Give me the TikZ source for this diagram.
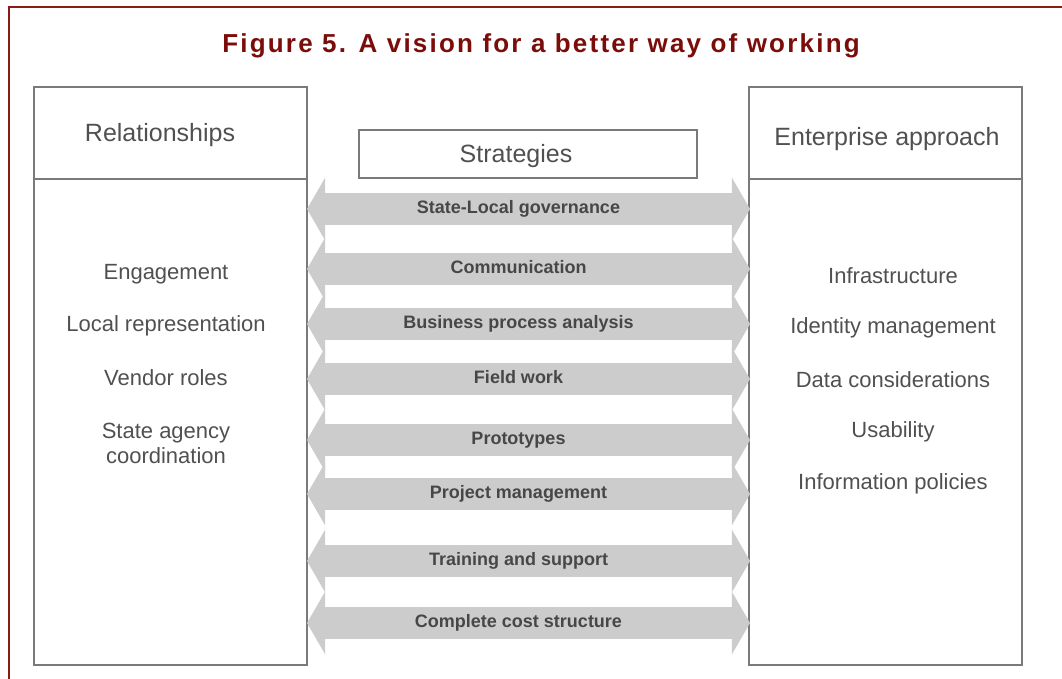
\documentclass[tikz,border=0pt]{standalone}
\usepackage{fontspec}
\setmainfont{Liberation Sans}
\newfontfamily\titlefont[LetterSpace=8.5]{Liberation Sans}
\usetikzlibrary{shapes.arrows, positioning}
\definecolor{cframe}{HTML}{8A1A14}
\definecolor{ctitle}{HTML}{7A0D0A}
\definecolor{cline}{HTML}{7A7A7A}
\definecolor{ctext}{HTML}{505050}
\definecolor{carrow}{HTML}{CCCCCC}
\tikzset{
  every picture/.style={line width=1.6pt},
  panel/.style={draw=cline, minimum width=273pt, inner sep=0pt},
  head/.style={text=ctext, font=\fontsize{25}{30}\selectfont},
  item/.style={text=ctext, font=\fontsize{22}{25}\selectfont, align=center},
  strat/.style={double arrow, fill=carrow, draw=none, minimum height=443pt,
    double arrow head extend=15.5pt, double arrow tip angle=120, inner xsep=0pt,
    inner ysep=6.5pt, text height=13pt, text depth=4pt, text=black!72,
    font=\fontsize{18}{20}\selectfont\bfseries, execute at end node=\hspace*{20pt}},
}

\begin{document}
\begin{tikzpicture}[x=1pt, y=-1pt]
  \useasboundingbox (0,0) rectangle (1062,678);
  \draw[cframe, line width=2.5pt] (9,690) -- (9,7) -- (1070,7);
  \node[text=ctitle, font=\titlefont\fontsize{26}{30}\selectfont\bfseries] (title) at (541,46) {Figure 5. A vision for a better way of working};
  % side panels
  \node[panel, minimum height=92pt] (relhead) at (170.5,133) {};
  \node[panel, minimum height=486pt] (relbody) at (170.5,422) {};
  \node[panel, minimum height=92pt] (enthead) at (885.5,133) {};
  \node[panel, minimum height=486pt] (entbody) at (885.5,422) {};
  \node[head] at (160,135) {Relationships};
  \node[head] at (887,139) {Enterprise approach};
  \node[draw=cline, minimum width=338pt, minimum height=48pt] (strathead) at (528,154) {};
  \node[head] at (516,156) {Strategies};
  % strategy arrows
  \foreach \y/\lab [count=\i] in {209/State-Local governance, 269/Communication, 324/Business process analysis, 379/Field work, 440/Prototypes, 494/Project management, 561/Training and support, 623/Complete cost structure}
    \node[strat] (s\i) at (528.5,\y) {\lab};
  % lists
  \foreach \y/\lab [count=\i] in {274/Engagement, 326/Local representation, 378/Vendor roles, 443.5/{State agency\\coordination}}
    \node[item] (rel\i) at (166,\y) {\lab};
  \foreach \y/\lab [count=\i] in {276/Infrastructure, 328/Identity management, 380/Data considerations, 432/Usability, 484/Information policies}
    \node[item] (ent\i) at (893,\y) {\lab};
\end{tikzpicture}
\end{document}
